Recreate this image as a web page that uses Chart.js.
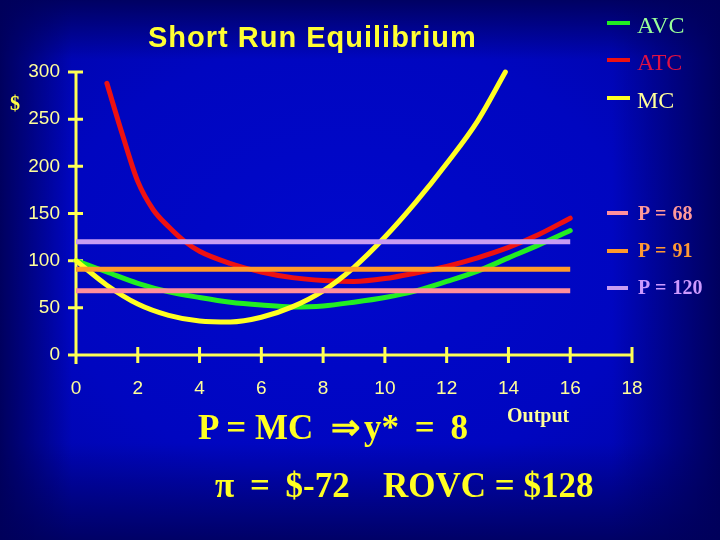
<!DOCTYPE html>
<html>
<head>
<meta charset="utf-8">
<script src="https://cdn.jsdelivr.net/npm/chart.js@4.4.1/dist/chart.umd.min.js"></script>
<style>
  html, body { margin: 0; padding: 0; }
  body {
    width: 720px; height: 540px; overflow: hidden; position: relative;
    background:
      linear-gradient(to right, rgba(0,0,90,0.95) 0%, rgba(0,0,90,0) 10%, rgba(0,0,90,0) 85%, rgba(0,0,90,0.95) 100%),
      linear-gradient(to bottom, rgba(0,0,90,0.9) 0%, rgba(0,0,90,0) 11%, rgba(0,0,90,0) 82%, rgba(0,0,90,0.85) 100%),
      radial-gradient(ellipse at 48% 48%, #0008cc 0%, #0006c0 55%, #0004a0 100%);
  }
  #wrap { position: absolute; left: 0; top: 0; width: 720px; height: 540px; }
  .t { position: absolute; white-space: pre; line-height: 1; }
  .serif { font-family: "Liberation Serif", "Times New Roman", serif; }
  .sans { font-family: "Liberation Sans", Arial, sans-serif; }
  .dash { position: absolute; height: 4px; }
</style>
</head>
<body>
<div id="wrap"><canvas id="c" width="720" height="540"></canvas></div>
<div id="overlay"></div>
<script>
// ---- data ----
const xTicks = [0, 2, 4, 6, 8, 10, 12, 14, 16, 18];
const yTicks = [0, 50, 100, 150, 200, 250, 300];

const avcX = [0, 1, 2, 3, 4, 5, 6, 7, 8, 9, 10, 11, 12, 13, 14, 15, 16];
const avcY = [100, 88, 76, 67, 61, 56, 53, 51, 52, 56, 61, 68, 78, 89, 103, 117, 132];

const atcX = [1, 1.5, 2, 2.5, 3, 3.5, 4, 5, 6, 7, 8, 9, 10, 11, 12, 13, 14, 15, 16];
const atcY = [288, 234, 184, 154, 136, 121, 110, 97, 88, 82, 79, 78, 81, 87, 94, 103, 114, 128, 145];

const mcX = [0, 1, 2, 3, 4, 5, 6, 7, 8, 9, 10, 11, 12, 13, 13.9];
const mcY = [100, 74, 54, 42, 36, 35, 40, 51, 68, 93, 125, 162, 203, 248, 300];

const priceX = [0, 16];
const prices = [68, 91, 120];
const priceLabels = ["P = 68", "P = 91", "P = 120"];

const curveLabels = ["AVC", "ATC", "MC"];

// ---- styles ----
const colAVC = "#22ee22", colATC = "#ee1111", colMC = "#ffff22";
const priceCols = ["#ff8f9c", "#ff9a2a", "#c89cf2"];
const axisCol = "#ffff55";
const tickTextCol = "#ffff99";

const pts = (xs, ys) => xs.map((x, i) => ({ x: x, y: ys[i] }));

const datasets = [];
for (let i = prices.length - 1; i >= 0; i--) {
  datasets.push({
    label: priceLabels[i],
    data: pts(priceX, priceX.map(() => prices[i])),
    borderColor: priceCols[i], borderWidth: 5, pointRadius: 0, tension: 0,
    borderCapStyle: "butt"
  });
}
datasets.push({ label: "MC", data: pts(mcX, mcY), borderColor: colMC, borderWidth: 5, clip: false,
  pointRadius: 0, cubicInterpolationMode: "monotone", borderCapStyle: "round" });
datasets.push({ label: "ATC", data: pts(atcX, atcY), borderColor: colATC, borderWidth: 5, clip: false,
  pointRadius: 0, cubicInterpolationMode: "monotone", borderCapStyle: "round" });
datasets.push({ label: "AVC", data: pts(avcX, avcY), borderColor: colAVC, borderWidth: 5, clip: false,
  pointRadius: 0, cubicInterpolationMode: "monotone", borderCapStyle: "round" });

const axesPlugin = {
  id: "crossAxes",
  beforeDatasetsDraw(chart) {
    const ctx = chart.ctx, xs = chart.scales.x, ys = chart.scales.y;
    const x0 = xs.getPixelForValue(0), y0 = ys.getPixelForValue(0);
    const yTop = ys.getPixelForValue(300), xEnd = xs.getPixelForValue(18);
    ctx.save();
    ctx.strokeStyle = axisCol; ctx.lineWidth = 3; ctx.lineCap = "butt";
    ctx.beginPath();
    ctx.moveTo(x0, yTop - 1); ctx.lineTo(x0, y0 + 9);
    ctx.moveTo(x0 - 8, y0); ctx.lineTo(xEnd + 1, y0);
    yTicks.forEach(v => { const p = ys.getPixelForValue(v); ctx.moveTo(x0 - 8, p); ctx.lineTo(x0 + 7, p); });
    xTicks.forEach(v => { if (v === 0) return; const p = xs.getPixelForValue(v); ctx.moveTo(p, y0 - 8); ctx.lineTo(p, y0 + 8); });
    ctx.stroke();
    ctx.restore();
  }
};

new Chart(document.getElementById("c"), {
  type: "line",
  data: { datasets: datasets },
  options: {
    responsive: false, animation: false,
    layout: { padding: { top: 72, right: 88, left: 0, bottom: 0 } },
    plugins: { legend: { display: false }, tooltip: { enabled: false }, title: { display: false } },
    scales: {
      x: {
        type: "linear", min: 0, max: 18,
        afterFit: s => { s.height = 185; },
        afterBuildTicks: s => { s.ticks = xTicks.map(v => ({ value: v })); },
        grid: { display: false, drawTicks: false }, border: { display: false },
        ticks: { color: tickTextCol, padding: 22, font: { family: "Liberation Sans, Arial", size: 19 }, maxRotation: 0 }
      },
      y: {
        type: "linear", min: 0, max: 300,
        afterFit: s => { s.width = 76; },
        afterBuildTicks: s => { s.ticks = yTicks.map(v => ({ value: v })); },
        grid: { display: false, drawTicks: false }, border: { display: false },
        ticks: { color: tickTextCol, padding: 16, font: { family: "Liberation Sans, Arial", size: 19 } }
      }
    }
  },
  plugins: [axesPlugin]
});

// ---- HTML text overlays ----
const ov = document.getElementById("overlay");
function addText(txt, cls, left, top, size, color, weight, extra) {
  const d = document.createElement("div");
  d.className = "t " + cls;
  d.textContent = txt;
  d.style.left = left + "px"; d.style.top = top + "px";
  d.style.fontSize = size + "px"; d.style.color = color;
  d.style.fontWeight = weight || "normal";
  if (extra) Object.assign(d.style, extra);
  ov.appendChild(d);
}
function addDash(left, top, w, color) {
  const d = document.createElement("div");
  d.className = "dash";
  d.style.left = left + "px"; d.style.top = top + "px"; d.style.width = w + "px";
  d.style.background = color;
  ov.appendChild(d);
}

addText("Short Run Equilibrium", "sans", 148, 23, 29, "#ffff33", "bold", { letterSpacing: "1px" });
addText("$", "serif", 10, 93, 20, "#ffff44", "bold");
addText("Output", "serif", 507, 405, 20, "#ffff99", "bold");

const curveCols = [colAVC, colATC, colMC];
const curveTextCols = ["#99ff99", "#dd1144", "#ffff99"];
const curveTops = [13, 50, 88];
const curveDashY = [21, 58, 96];
curveLabels.forEach((lab, i) => {
  addDash(607, curveDashY[i], 23, curveCols[i]);
  addText(lab, "serif", 637, curveTops[i], 24, curveTextCols[i], "normal");
});
const priceTextCols = ["#ff9999", "#ff9933", "#cc99ff"];
const priceTops = [203, 240, 277];
const priceDashY = [211, 249, 286];
priceLabels.forEach((lab, i) => {
  addDash(607, priceDashY[i], 21, priceCols[i]);
  addText(lab, "serif", 638, priceTops[i], 20, priceTextCols[i], "bold", { wordSpacing: "1px" });
});

const bottomCol = "#ffff22";
addText("P = MC", "serif", 198, 410, 35, bottomCol, "bold");
addText("\u21D2", "serif", 331, 410, 35, bottomCol, "bold");
addText("y* = 8", "serif", 364, 410, 35, bottomCol, "bold", { wordSpacing: "7px" });
addText("\u03C0 = $-72", "serif", 215, 468, 35, bottomCol, "bold", { wordSpacing: "7px" });
addText("ROVC = $128", "serif", 383, 468, 35, bottomCol, "bold");
</script>
</body>
</html>
